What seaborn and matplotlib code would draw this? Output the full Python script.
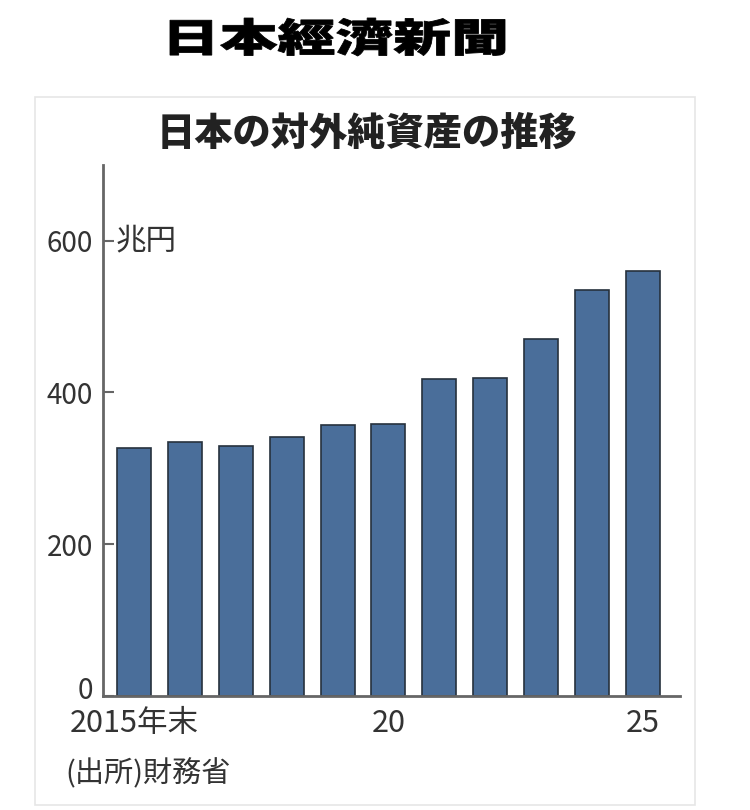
import matplotlib
matplotlib.use("Agg")
import matplotlib.pyplot as plt
import seaborn as sns
import pandas as pd
from matplotlib import font_manager as fm
from matplotlib.textpath import TextPath
from matplotlib.patches import PathPatch, Rectangle
from matplotlib.transforms import Affine2D, blended_transform_factory, ScaledTranslation

years = ["2015", "2016", "2017", "2018", "2019", "2020", "2021", "2022", "2023", "2024", "2025"]
values = [327, 335, 329, 341, 357, 359, 418, 419, 471, 535, 560]
yticks = [0, 200, 400, 600]
xtick_pos = [0, 5, 10]
xtick_labels = ["2015年末", "20", "25"]
title = "日本の対外純資産の推移"
unit = "兆円"
source = "(出所)財務省"
logo = "日本經濟新聞"

sns.set_theme(style="white")
names = {f.name for f in fm.fontManager.ttflist}
narrow = [n for n in ["Liberation Sans Narrow", "DejaVu Sans Condensed"] if n in names]
cjk = "Noto Sans CJK JP"
plt.rcParams["font.family"] = narrow + [cjk, "DejaVu Sans"]

fig = plt.figure(figsize=(7.5, 8.1), dpi=100)
W, H = 750, 810

# frame box
fig.patches.append(Rectangle((35 / W, 1 - 805 / H), 660 / W, (805 - 97) / H,
                             transform=fig.transFigure, fill=False,
                             edgecolor="#e6e6e6", linewidth=1.2))

# logo (stretched)
prop = fm.FontProperties(family=cjk, weight="black")
tp = TextPath((0, 0), logo, prop=prop, size=1)
ext = tp.get_extents()
sx = (505 - 170) / ext.width
sy = 38 / ext.height
tr = Affine2D().translate(-ext.x0, -ext.y0).scale(sx, sy).translate(170, H - 56)
fig.patches.append(PathPatch(tr.transform_path(tp), transform=None,
                             facecolor="black", edgecolor="black", lw=0.6))

fig.text(367 / W, 1 - 134 / H, title, ha="center", va="center",
         fontsize=27.5, fontweight="heavy", family=[cjk], color="#222222")

ax = fig.add_axes([103 / W, 1 - 695.7 / H, (680 - 103) / W, (695.7 - 165) / H])
df = pd.DataFrame({"year": years, "value": values})
sns.barplot(data=df, x="year", y="value", ax=ax, color="#4a6e9a", saturation=1,
            width=0.67, edgecolor="#26313d", linewidth=1.2)

ax.set_xlim(-0.61, 10.73)
ax.set_ylim(0, 700)
ax.set_yticks(yticks)
ax.set_yticklabels([str(v) for v in yticks])
ax.set_xticks(xtick_pos)
ax.set_xticklabels(xtick_labels)
ax.set_xlabel("")
ax.set_ylabel("")
for s in ["top", "right"]:
    ax.spines[s].set_visible(False)
for s in ["left", "bottom"]:
    ax.spines[s].set_color("#666666")
    ax.spines[s].set_linewidth(2)
ax.tick_params(axis="y", direction="in", length=8, width=1.5, color="#666666",
               labelsize=20, labelcolor="#333333", pad=7, left=True)
ax.tick_params(axis="x", length=0, labelsize=22, labelcolor="#333333", pad=9)

# lift the "0" label a bit like the reference
lab0 = ax.get_yticklabels()[0]
lab0.set_transform(lab0.get_transform() + ScaledTranslation(0, 8 / 100, fig.dpi_scale_trans))

tb = blended_transform_factory(ax.transAxes, ax.transData)
ax.text(0.022, 600, unit, transform=tb, va="center", ha="left",
        fontsize=22, color="#333333", family=[cjk])

fig.text(65 / W, 1 - 774 / H, source, ha="left", va="center",
         fontsize=21, color="#333333")

fig.savefig("out.png", dpi=100, facecolor="white")
